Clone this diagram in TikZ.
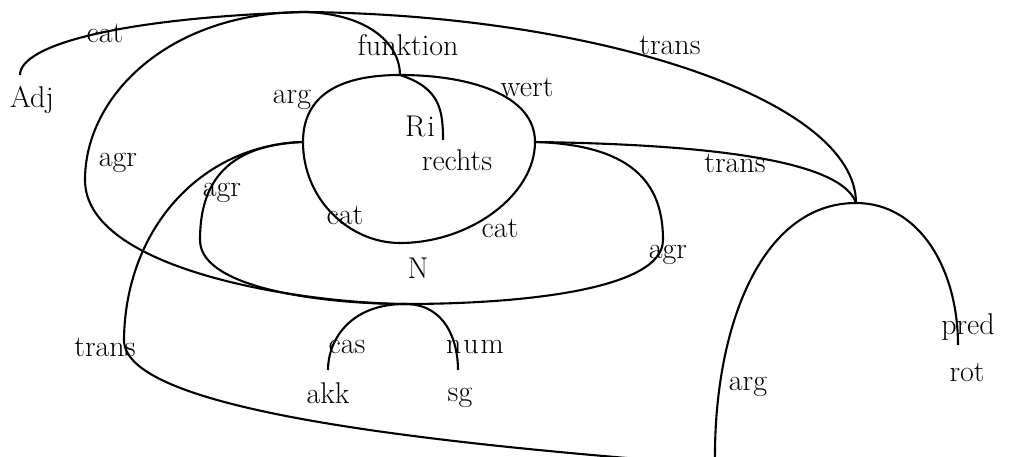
\documentclass[tikz,border=0pt]{standalone}
\begin{document}
\begin{tikzpicture}[x=1pt,y=-1pt,
  edge/.style={line width=2.1pt},
  lbl/.style={inner sep=0pt,font=\fontsize{30}{34}\selectfont},
  val/.style={inner sep=0pt,font=\fontsize{30}{34}\selectfont}]
\useasboundingbox (0,0) rectangle (1010,457);
\clip (0,0) rectangle (1010,457);
% graph nodes
\coordinate (root) at (305,12);
\coordinate (F) at (400,75);
\coordinate (A) at (303,142);
\coordinate (W) at (535,142);
\coordinate (T) at (856,203);
\coordinate (N) at (400,243);
\coordinate (N2) at (405,304);
\coordinate (bot) at (715,465);
\coordinate (adjE) at (20,75);
\coordinate (riE) at (443,140);
\coordinate (akkE) at (328,370);
\coordinate (sgE) at (458,370);
\coordinate (rotE) at (958,345);
\coordinate (mA1) at (200,240);
\coordinate (mA2) at (124,340);
\coordinate (mR) at (85,180);
\coordinate (mW) at (663,240);
% connectors
\draw[edge] (root) .. controls (120,18) and (20,45) .. (adjE);
\draw[edge] (root) .. controls (370,14) and (400,45) .. (F);
\draw[edge] (root) .. controls (600,15) and (856,100) .. (T);
\draw[edge] (root) .. controls (170,12) and (85,95) .. (mR) .. controls (85,270) and (300,303) .. (N2);
\draw[edge] (F) .. controls (340,75) and (303,95) .. (A);
\draw[edge] (F) .. controls (440,88) and (443,110) .. (riE);
\draw[edge] (F) .. controls (470,75) and (535,95) .. (W);
\draw[edge] (A) .. controls (303,200) and (350,243) .. (N);
\draw[edge] (W) .. controls (535,195) and (470,243) .. (N);
\draw[edge] (A) .. controls (220,145) and (200,190) .. (mA1) .. controls (200,290) and (330,304) .. (N2);
\draw[edge] (A) .. controls (200,145) and (125,230) .. (mA2) .. controls (124,405) and (380,440) .. (bot);
\draw[edge] (W) .. controls (760,145) and (845,170) .. (T);
\draw[edge] (W) .. controls (640,145) and (663,190) .. (mW) .. controls (663,290) and (520,304) .. (N2);
\draw[edge] (N2) .. controls (350,304) and (328,340) .. (akkE);
\draw[edge] (N2) .. controls (445,304) and (458,340) .. (sgE);
\draw[edge] (T) .. controls (920,203) and (958,270) .. (rotE);
\draw[edge] (T) .. controls (760,203) and (713,330) .. (bot);
% edge labels
\node[lbl] (l1) at (105,33) {cat};
\node[lbl] (l2) at (408,45) {funktion};
\node[lbl] (l3) at (670,45) {trans};
\node[lbl] (l4) at (292,100) {arg};
\node[lbl] (l5) at (420,126) {R\kern2pt i};
\node[lbl] (l6) at (527,87) {wert};
\node[lbl] (l7) at (118,163) {agr};
\node[lbl] (l8) at (222,193) {agr};
\node[lbl] (l9) at (735,163) {trans};
\node[lbl] (l10) at (345,215) {cat};
\node[lbl] (l11) at (500,228) {cat};
\node[lbl] (l12) at (668,255) {agr};
\node[lbl] (l13) at (968,327) {pred};
\node[lbl] (l14) at (105,347) {trans};
\node[lbl] (l15) at (347,347) {cas};
\node[lbl] (l16) at (475,347) {n\kern2pt u\kern2pt m};
\node[lbl] (l17) at (748,387) {arg};
% values
\node[val] (vAdj) at (32,100) {Adj};
\node[val] (vRechts) at (457,160) {rechts};
\node[val] (vN) at (418,268) {N};
\node[val] (vAkk) at (328,393) {akk};
\node[val] (vSg) at (460,398) {sg};
\node[val] (vRot) at (967,372) {rot};
\end{tikzpicture}
\end{document}
